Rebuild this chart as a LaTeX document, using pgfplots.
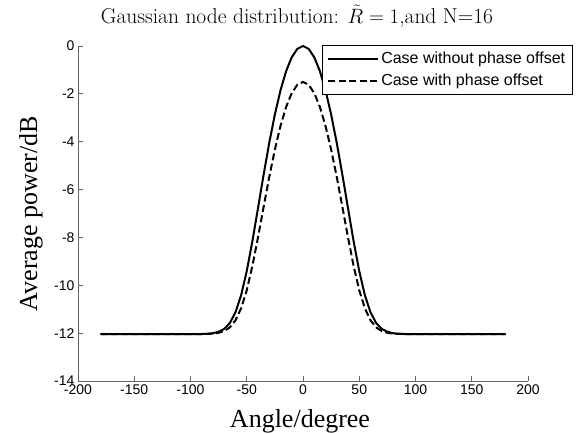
\documentclass[border=0pt]{standalone}
\usepackage{fontspec}
\usepackage{pgfplots}
\usepackage{pgfplotstable}
\pgfplotsset{compat=1.18}
\newfontfamily\arialfont{Liberation Sans}
\newfontfamily\timesfont{Liberation Serif}
\definecolor{axisgray}{RGB}{100,100,100}

% average power (dB) against angle, with and without phase offset
\pgfplotstableread{
ang   solid    dashed
-180  -12.041  -12.041
-90   -12.036  -12.038
-85   -12.026  -12.033
-80   -12.002  -12.019
-75   -11.944  -11.986
-70   -11.821  -11.912
-65   -11.575  -11.757
-60   -11.129  -11.464
-55   -10.414  -10.962
-50   -9.409   -10.205
-45   -8.162   -9.190
-40   -6.778   -7.997
-35   -5.377   -6.724
-30   -4.048   -5.473
-25   -2.859   -4.327
-20   -1.852   -3.340
-15   -1.050   -2.547
-10   -0.469   -1.968
-5    -0.118   -1.617
0      0.000   -1.500
5     -0.118   -1.617
10    -0.469   -1.968
15    -1.050   -2.547
20    -1.852   -3.340
25    -2.859   -4.327
30    -4.048   -5.473
35    -5.377   -6.724
40    -6.778   -7.997
45    -8.162   -9.190
50    -9.409   -10.205
55    -10.414  -10.962
60    -11.129  -11.464
65    -11.575  -11.757
70    -11.821  -11.912
75    -11.944  -11.986
80    -12.002  -12.019
85    -12.026  -12.033
90    -12.036  -12.038
180   -12.041  -12.041
}\powertab

\begin{document}
\begin{tikzpicture}
\useasboundingbox (0,0) rectangle (587pt,434pt);
\begin{axis}[
  at={(78pt,53pt)}, anchor=south west,
  scale only axis, width=450pt, height=335pt,
  xmin=-200, xmax=200, ymin=-14, ymax=0,
  axis lines*=left,
  axis line style={axisgray, line width=0.8pt},
  tick align=inside,
  major tick length=5pt,
  tick style={axisgray, line width=0.8pt},
  xtick={-200,-150,...,200},
  xticklabels={-200,-150,-100,-50,0,50,100,150,200},
  ytick={-14,-12,...,0},
  yticklabels={-14,-12,-10,-8,-6,-4,-2,0},
  ticklabel style={font=\arialfont\fontsize{14}{14}\selectfont, text=black},
  title={Gaussian node distribution: $\tilde{R}=1$,and N=16},
  title style={at={(0.5,1)}, anchor=base, yshift=16pt, xshift=-6pt,
    font=\fontsize{21.5}{24}\selectfont},
  xlabel={Angle/degree},
  xlabel style={at={(0.5,0)}, anchor=base, yshift=-47pt, xshift=-3pt,
    font=\timesfont\fontsize{26}{28}\selectfont},
  ylabel={Average power/dB},
  ylabel style={at={(-0.0911,0.5)}, anchor=base, rotate=0,
    font=\timesfont\fontsize{26}{28}\selectfont},
  legend image code/.code={\draw[#1] (0pt,0pt) -- (50pt,0pt);},
  legend cell align=left,
  legend style={at={(0.5422,1.003)}, anchor=north west,
    draw=black, line width=0.6pt,
    font=\arialfont\fontsize{16}{18}\selectfont,
    inner xsep=5pt, inner ysep=5pt, row sep=5pt,
    /tikz/every even column/.append style={column sep=2pt}},
]
\addplot[black, line width=2pt] table[x=ang, y=solid] {\powertab};
\addlegendentry{Case without phase offset}
\addplot[black, line width=2pt, dash pattern=on 7pt off 3.5pt] table[x=ang, y=dashed] {\powertab};
\addlegendentry{Case with phase offset}
\end{axis}
\end{tikzpicture}
\end{document}
